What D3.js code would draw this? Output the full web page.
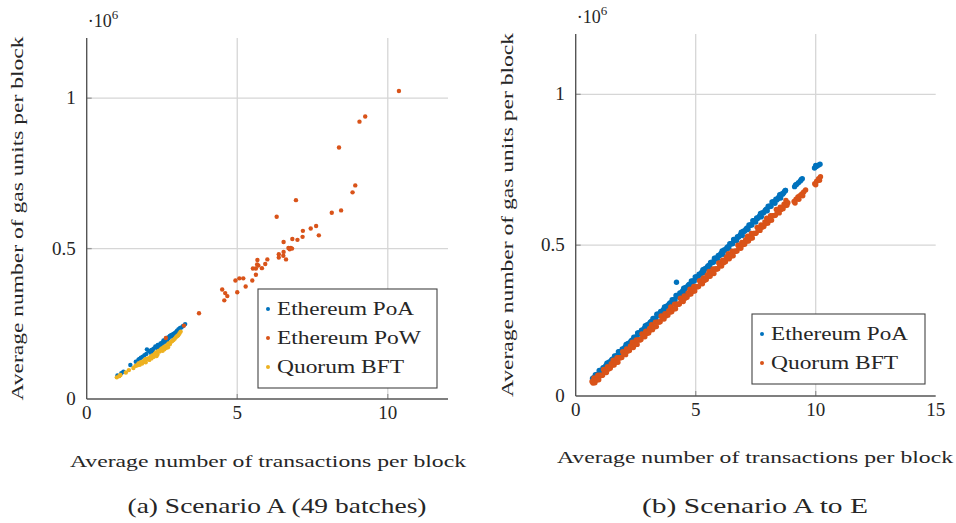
<!DOCTYPE html>
<html lang="en">
<head>
<meta charset="UTF-8">
<title>Gas units vs transactions per block</title>
<script src="https://d3js.org/d3.v7.min.js"></script>
<style>
  body { margin: 0; background: #fff; }
  svg text { font-family: "Liberation Serif", "DejaVu Serif", serif; fill: #262626; }
  .grid line { stroke: #d6d6d6; stroke-width: 1.3px; }
  .axisline { stroke: #555; stroke-width: 1.4px; }
</style>
</head>
<body>
<svg width="956" height="523"></svg>
<script>
// ---- data (gas units in 1e6, x = avg transactions per block) ----
const colors = { poa: "#0072bd", pow: "#d95319", bft: "#edb120" };

// Scenario A (49 batches)
const aPoA = [[1.02,0.078],[1.15,0.086],[1.22,0.091],[1.45,0.113],[1.63,0.124],[1.72,0.131],[1.80,0.137],[1.86,0.141],[1.92,0.146],[2.00,0.165],[2.05,0.160],[2.10,0.160],[2.15,0.163],[2.22,0.167],[2.28,0.175],[2.32,0.172],[2.36,0.180],[2.40,0.178],[2.45,0.185],[2.50,0.186],[2.55,0.195],[2.58,0.192],[2.62,0.198],[2.66,0.201],[2.70,0.205],[2.73,0.203],[2.76,0.210],[2.80,0.212],[2.84,0.214],[2.88,0.216],[2.92,0.219],[2.96,0.222],[3.00,0.227],[3.05,0.232],[3.10,0.236],[3.15,0.238],[3.20,0.243],[3.27,0.249],[2.20,0.158],[2.42,0.172],[2.68,0.196],[1.98,0.150],[2.52,0.180],[2.85,0.207],[3.02,0.222],[1.75,0.133],[2.12,0.154],[2.35,0.168],[2.60,0.190]];
const aPoW = [[10.37,1.024],[9.25,0.939],[9.06,0.922],[8.38,0.836],[8.92,0.710],[8.83,0.687],[6.95,0.661],[8.14,0.619],[8.45,0.627],[6.31,0.606],[7.44,0.567],[7.62,0.575],[7.18,0.559],[7.17,0.539],[7.71,0.544],[6.83,0.532],[7.00,0.529],[6.54,0.522],[6.70,0.502],[6.78,0.502],[6.74,0.498],[6.54,0.489],[6.38,0.481],[6.38,0.470],[6.53,0.476],[6.62,0.464],[6.00,0.464],[5.67,0.462],[5.93,0.449],[5.70,0.444],[5.82,0.435],[5.52,0.434],[5.62,0.434],[5.62,0.413],[5.50,0.394],[5.20,0.401],[5.07,0.401],[4.94,0.394],[5.28,0.374],[5.00,0.355],[4.50,0.364],[4.60,0.352],[4.67,0.342],[4.57,0.328],[3.73,0.285],[3.23,0.244],[2.63,0.203],[6.82,0.500],[5.66,0.447]];
const aBFT = [[1.00,0.072],[1.08,0.076],[1.12,0.080],[1.30,0.088],[1.40,0.096],[1.55,0.103],[1.62,0.110],[1.68,0.112],[1.72,0.118],[1.76,0.114],[1.80,0.122],[1.84,0.118],[1.88,0.125],[1.92,0.128],[1.96,0.122],[2.00,0.133],[2.04,0.135],[2.08,0.130],[2.12,0.140],[2.18,0.145],[2.22,0.140],[2.26,0.150],[2.30,0.155],[2.35,0.148],[2.38,0.160],[2.42,0.158],[2.46,0.165],[2.50,0.168],[2.52,0.160],[2.56,0.172],[2.60,0.175],[2.64,0.170],[2.68,0.180],[2.72,0.185],[2.76,0.182],[2.80,0.190],[2.84,0.193],[2.88,0.196],[2.92,0.200],[2.96,0.205],[3.00,0.209],[3.04,0.212],[3.08,0.218],[3.12,0.224],[2.70,0.172],[2.58,0.165],[2.32,0.143],[2.15,0.135],[1.95,0.132]];

// Scenario A to E
const bPoA = [[0.70,0.058],[0.78,0.056],[0.86,0.069],[0.94,0.071],[1.02,0.085],[1.10,0.081],[1.18,0.092],[1.26,0.101],[1.34,0.098],[1.42,0.111],[1.50,0.120],[1.58,0.118],[1.66,0.131],[1.74,0.133],[1.82,0.147],[1.90,0.143],[1.98,0.154],[2.06,0.163],[2.14,0.160],[2.22,0.173],[2.30,0.182],[2.38,0.180],[2.46,0.193],[2.54,0.195],[2.62,0.209],[2.70,0.205],[2.78,0.216],[2.86,0.225],[2.94,0.222],[3.02,0.235],[3.10,0.244],[3.18,0.242],[3.26,0.255],[3.34,0.257],[3.42,0.271],[3.50,0.267],[3.58,0.278],[3.66,0.287],[3.74,0.284],[3.82,0.297],[3.90,0.306],[3.98,0.304],[4.06,0.317],[4.14,0.319],[4.22,0.333],[4.30,0.329],[4.38,0.340],[4.46,0.349],[4.54,0.346],[4.62,0.359],[4.70,0.368],[4.78,0.366],[4.86,0.379],[4.94,0.381],[5.02,0.395],[5.10,0.391],[5.18,0.402],[5.26,0.411],[5.34,0.408],[5.42,0.421],[5.50,0.430],[5.58,0.428],[5.66,0.441],[5.74,0.443],[5.82,0.457],[5.90,0.453],[5.98,0.464],[6.06,0.473],[6.14,0.470],[6.22,0.483],[6.30,0.492],[6.38,0.490],[6.46,0.503],[6.54,0.505],[6.62,0.519],[6.70,0.515],[6.78,0.526],[6.86,0.535],[6.94,0.532],[7.02,0.545],[7.10,0.554],[7.18,0.552],[7.26,0.565],[7.34,0.567],[7.42,0.581],[7.50,0.577],[7.58,0.588],[7.66,0.597],[7.74,0.594],[7.82,0.607],[7.90,0.616],[7.98,0.614],[8.06,0.627],[8.14,0.629],[8.22,0.643],[8.30,0.639],[8.38,0.650],[8.46,0.659],[8.54,0.656],[8.62,0.669],[8.70,0.678],[8.74,0.681],[9.12,0.694],[9.20,0.701],[9.28,0.707],[9.36,0.713],[9.44,0.720],[9.95,0.756],[10.03,0.761],[10.11,0.765],[10.18,0.768],[4.20,0.377]];
const bPoA2 = [[0.74,0.061],[0.82,0.071],[0.90,0.072],[0.98,0.085],[1.06,0.085],[1.14,0.094],[1.22,0.096],[1.30,0.109],[1.38,0.112],[1.46,0.115],[1.54,0.123],[1.62,0.133],[1.70,0.134],[1.78,0.147],[1.86,0.147],[1.94,0.156],[2.02,0.158],[2.10,0.171],[2.18,0.174],[2.26,0.177],[2.34,0.185],[2.42,0.195],[2.50,0.196],[2.58,0.209],[2.66,0.209],[2.74,0.218],[2.82,0.220],[2.90,0.233],[2.98,0.236],[3.06,0.239],[3.14,0.247],[3.22,0.257],[3.30,0.258],[3.38,0.271],[3.46,0.271],[3.54,0.280],[3.62,0.282],[3.70,0.295],[3.78,0.298],[3.86,0.301],[3.94,0.309],[4.02,0.319],[4.10,0.320],[4.18,0.333],[4.26,0.333],[4.34,0.342],[4.42,0.344],[4.50,0.357],[4.58,0.360],[4.66,0.363],[4.74,0.371],[4.82,0.381],[4.90,0.382],[4.98,0.395],[5.06,0.395],[5.14,0.404],[5.22,0.406],[5.30,0.419],[5.38,0.422],[5.46,0.425],[5.54,0.433],[5.62,0.443],[5.70,0.444],[5.78,0.457],[5.86,0.457],[5.94,0.466],[6.02,0.468],[6.10,0.481],[6.18,0.484],[6.26,0.487],[6.34,0.495],[6.42,0.505],[6.50,0.506],[6.58,0.519],[6.66,0.519],[6.74,0.528],[6.82,0.530],[6.90,0.543],[6.98,0.546],[7.06,0.549],[7.14,0.557],[7.22,0.567],[7.30,0.568],[7.38,0.581],[7.46,0.581],[7.54,0.590],[7.62,0.592],[7.70,0.605],[7.78,0.608],[7.86,0.611],[7.94,0.619],[8.02,0.629],[8.10,0.630],[8.18,0.643],[8.26,0.643],[8.34,0.652],[8.42,0.654],[8.50,0.667],[8.58,0.670],[8.66,0.673],[8.74,0.681],[9.16,0.700],[9.40,0.718],[10.00,0.764]];
const bBFT = [[0.68,0.048],[0.76,0.060],[0.84,0.053],[0.92,0.069],[1.00,0.069],[1.08,0.068],[1.16,0.088],[1.24,0.084],[1.32,0.097],[1.40,0.093],[1.48,0.107],[1.56,0.119],[1.64,0.112],[1.72,0.127],[1.80,0.127],[1.88,0.127],[1.96,0.147],[2.04,0.143],[2.12,0.156],[2.20,0.152],[2.28,0.166],[2.36,0.178],[2.44,0.170],[2.52,0.186],[2.60,0.186],[2.68,0.186],[2.76,0.206],[2.84,0.202],[2.92,0.215],[3.00,0.211],[3.08,0.224],[3.16,0.236],[3.24,0.229],[3.32,0.245],[3.40,0.245],[3.48,0.245],[3.56,0.265],[3.64,0.261],[3.72,0.273],[3.80,0.269],[3.88,0.283],[3.96,0.295],[4.04,0.288],[4.12,0.304],[4.20,0.304],[4.28,0.304],[4.36,0.324],[4.44,0.319],[4.52,0.332],[4.60,0.328],[4.68,0.342],[4.76,0.354],[4.84,0.347],[4.92,0.363],[5.00,0.363],[5.08,0.362],[5.16,0.382],[5.24,0.378],[5.32,0.391],[5.40,0.387],[5.48,0.401],[5.56,0.413],[5.64,0.406],[5.72,0.421],[5.80,0.421],[5.88,0.421],[5.96,0.441],[6.04,0.437],[6.12,0.450],[6.20,0.446],[6.28,0.460],[6.36,0.472],[6.44,0.464],[6.52,0.480],[6.60,0.480],[6.68,0.480],[6.76,0.500],[6.84,0.496],[6.92,0.509],[7.00,0.505],[7.08,0.518],[7.16,0.530],[7.24,0.523],[7.32,0.539],[7.40,0.539],[7.48,0.539],[7.56,0.559],[7.64,0.555],[7.72,0.567],[7.80,0.563],[7.88,0.577],[7.96,0.589],[8.04,0.582],[8.12,0.598],[8.20,0.598],[8.28,0.598],[8.36,0.618],[8.44,0.613],[8.52,0.626],[8.60,0.622],[8.68,0.636],[8.76,0.648],[8.84,0.641],[9.10,0.645],[9.18,0.652],[9.26,0.660],[9.34,0.664],[9.42,0.670],[9.50,0.676],[9.58,0.683],[9.96,0.704],[10.04,0.712],[10.12,0.720],[10.20,0.727]];
const bBFT2 = [[0.72,0.043],[0.80,0.044],[0.88,0.053],[0.96,0.054],[1.04,0.068],[1.12,0.069],[1.20,0.079],[1.28,0.078],[1.36,0.089],[1.44,0.092],[1.52,0.102],[1.60,0.103],[1.68,0.112],[1.76,0.112],[1.84,0.127],[1.92,0.128],[2.00,0.138],[2.08,0.137],[2.16,0.148],[2.24,0.151],[2.32,0.161],[2.40,0.161],[2.48,0.170],[2.56,0.171],[2.64,0.186],[2.72,0.187],[2.80,0.197],[2.88,0.196],[2.96,0.207],[3.04,0.209],[3.12,0.219],[3.20,0.220],[3.28,0.229],[3.36,0.230],[3.44,0.245],[3.52,0.246],[3.60,0.256],[3.68,0.255],[3.76,0.265],[3.84,0.268],[3.92,0.278],[4.00,0.279],[4.08,0.288],[4.16,0.289],[4.24,0.304],[4.32,0.305],[4.40,0.314],[4.48,0.313],[4.56,0.324],[4.64,0.327],[4.72,0.337],[4.80,0.338],[4.88,0.347],[4.96,0.348],[5.04,0.362],[5.12,0.363],[5.20,0.373],[5.28,0.372],[5.36,0.383],[5.44,0.386],[5.52,0.396],[5.60,0.397],[5.68,0.406],[5.76,0.406],[5.84,0.421],[5.92,0.422],[6.00,0.432],[6.08,0.431],[6.16,0.442],[6.24,0.445],[6.32,0.455],[6.40,0.455],[6.48,0.464],[6.56,0.465],[6.64,0.480],[6.72,0.481],[6.80,0.491],[6.88,0.490],[6.96,0.501],[7.04,0.503],[7.12,0.513],[7.20,0.514],[7.28,0.523],[7.36,0.524],[7.44,0.539],[7.52,0.540],[7.60,0.550],[7.68,0.549],[7.76,0.559],[7.84,0.562],[7.92,0.572],[8.00,0.573],[8.08,0.582],[8.16,0.583],[8.24,0.598],[8.32,0.599],[8.40,0.608],[8.48,0.607],[8.56,0.618],[8.64,0.621],[8.72,0.631],[8.80,0.632],[9.14,0.640],[9.30,0.652],[9.46,0.664],[10.00,0.700],[10.16,0.715]];

const xTicksA = [0, 5, 10], xTicksB = [0, 5, 10, 15];
const yTicks = [0, 0.5, 1];
const xLabel = "Average number of transactions per block";
const yLabel = "Average number of gas units per block";

const svg = d3.select("svg");

function panel(cfg) {
  const x = d3.scaleLinear().domain(cfg.xDomain).range(cfg.xRange);
  const y = d3.scaleLinear().domain([0, 1.2]).range(cfg.yRange);
  const g = svg.append("g");

  // grid
  const grid = g.append("g").attr("class", "grid");
  grid.selectAll(".gx").data(cfg.xTicks.filter(d => d > 0 && d < cfg.xDomain[1]))
    .enter().append("line")
    .attr("x1", d => x(d)).attr("x2", d => x(d))
    .attr("y1", y(0)).attr("y2", y(1.2));
  grid.selectAll(".gy").data(yTicks.filter(d => d > 0))
    .enter().append("line")
    .attr("x1", x(0)).attr("x2", x(cfg.xDomain[1]))
    .attr("y1", d => y(d)).attr("y2", d => y(d));

  // inner tick marks
  g.selectAll(".ty").data(yTicks.filter(d => d > 0)).enter().append("line")
    .attr("x1", x(0)).attr("x2", x(0) + 5).attr("y1", d => y(d)).attr("y2", d => y(d))
    .attr("stroke", "#999").attr("stroke-width", 1.3);
  g.selectAll(".tx").data(cfg.xTicks.filter(d => d > 0 && d < cfg.xDomain[1])).enter().append("line")
    .attr("x1", d => x(d)).attr("x2", d => x(d)).attr("y1", y(0)).attr("y2", y(0) - 5)
    .attr("stroke", "#999").attr("stroke-width", 1.3);

  // points
  cfg.series.forEach(s => {
    g.append("g").selectAll("circle").data(s.data).enter().append("circle")
      .attr("cx", d => x(d[0])).attr("cy", d => y(d[1]))
      .attr("r", cfg.r).attr("fill", colors[s.key]);
  });

  // axes
  g.append("line").attr("class", "axisline")
    .attr("x1", x(0)).attr("x2", x(0)).attr("y1", y(0)).attr("y2", y(1.2));
  g.append("line").attr("class", "axisline")
    .attr("x1", x(0)).attr("x2", x(cfg.xDomain[1])).attr("y1", y(0)).attr("y2", y(0));

  // tick labels
  g.selectAll(".lx").data(cfg.xTicks).enter().append("text")
    .attr("x", d => x(d)).attr("y", y(0) + 20)
    .attr("text-anchor", "middle").attr("font-size", 19)
    .text(d => d);
  g.selectAll(".ly").data(yTicks).enter().append("text")
    .attr("x", x(0) - 11).attr("y", d => y(d) + 6)
    .attr("text-anchor", "end").attr("font-size", 19)
    .text(d => d);

  // scale factor
  const sf = g.append("text").attr("x", x(0) + 1).attr("y", y(1.2) - 11).attr("font-size", 18);
  sf.append("tspan").text("·10");
  sf.append("tspan").attr("font-size", 13).attr("dy", -8).text("6");

  // axis titles
  g.append("text")
    .attr("transform", `translate(${cfg.yTitleX},${(y(0) + y(1.2)) / 2}) rotate(-90)`)
    .attr("text-anchor", "middle").attr("font-size", 17)
    .attr("textLength", 364).attr("lengthAdjust", "spacingAndGlyphs")
    .text(yLabel);
  g.append("text")
    .attr("x", cfg.xTitleX).attr("y", cfg.xTitleY)
    .attr("text-anchor", "middle").attr("font-size", 17)
    .attr("textLength", 396).attr("lengthAdjust", "spacingAndGlyphs")
    .text(xLabel);
  g.append("text")
    .attr("x", cfg.capX).attr("y", 513)
    .attr("text-anchor", "middle").attr("font-size", 21)
    .attr("textLength", cfg.capLen).attr("lengthAdjust", "spacingAndGlyphs")
    .text(cfg.caption);

  // legend
  const L = cfg.legend;
  const lg = g.append("g").attr("transform", `translate(${L.x},${L.y})`);
  lg.append("rect").attr("width", L.w).attr("height", L.h)
    .attr("fill", "#fff").attr("stroke", "#444").attr("stroke-width", 1.1);
  cfg.series.filter(s => s.name).forEach((s, i) => {
    const cy = L.pad + i * 29;
    lg.append("circle").attr("cx", 10).attr("cy", cy).attr("r", 2).attr("fill", colors[s.key]);
    lg.append("text").attr("x", 19).attr("y", cy + 6).attr("font-size", 18)
      .attr("textLength", s.tl).attr("lengthAdjust", "spacingAndGlyphs")
      .text(s.name);
  });
}

panel({
  xDomain: [0, 12], xRange: [86.7, 448], yRange: [399, 38], xTicks: xTicksA, r: 2.2,
  yTitleX: 23, xTitleX: 268, xTitleY: 467, capX: 277, capLen: 299, caption: "(a) Scenario A (49 batches)",
  legend: { x: 258, y: 289, w: 179, h: 99, pad: 20 },
  series: [
    { key: "poa", name: "Ethereum PoA", data: aPoA, tl: 137 },
    { key: "pow", name: "Ethereum PoW", data: aPoW, tl: 144 },
    { key: "bft", name: "Quorum BFT", data: aBFT, tl: 127 }
  ]
});

panel({
  xDomain: [0, 15], xRange: [575.7, 935.7], yRange: [396, 34], xTicks: xTicksB, r: 2.7,
  yTitleX: 513, xTitleX: 755, xTitleY: 463, capX: 755, capLen: 226, caption: "(b) Scenario A to E",
  legend: { x: 752, y: 314, w: 173, h: 70, pad: 20 },
  series: [
    { key: "poa", name: "Ethereum PoA", data: bPoA, tl: 137 },
    { key: "poa", name: null, data: bPoA2 },
    { key: "pow", name: "Quorum BFT", data: bBFT, tl: 127 },
    { key: "pow", name: null, data: bBFT2 }
  ]
});
</script>
</body>
</html>
